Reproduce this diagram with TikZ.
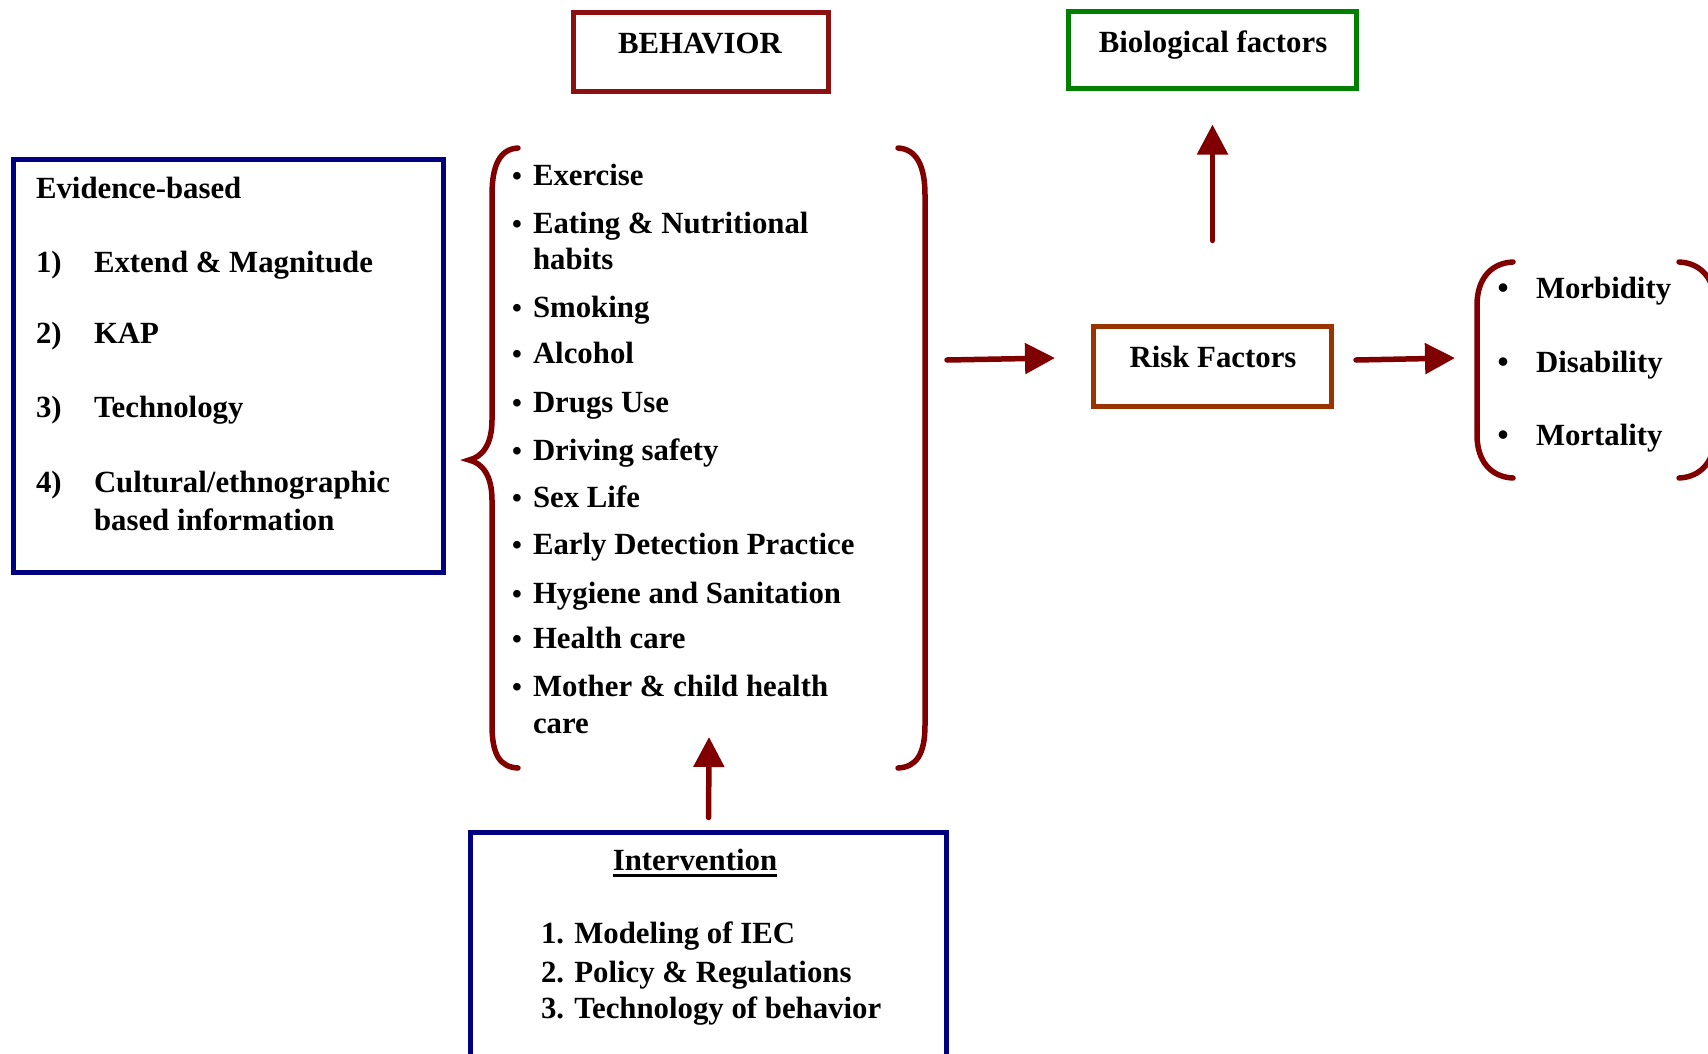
\documentclass[tikz,border=0pt]{standalone}
\usepackage{fontspec}
\setmainfont{Liberation Serif}
\usetikzlibrary{arrows.meta}
\definecolor{arrred}{RGB}{128,0,0}
\definecolor{behred}{RGB}{140,16,16}
\definecolor{navyblue}{RGB}{0,0,128}
\definecolor{biogreen}{RGB}{0,128,0}
\definecolor{riskbrown}{RGB}{153,51,0}
\begin{document}
\begin{tikzpicture}[x=1pt,y=-1pt,
  every node/.style={inner sep=0pt, outer sep=0pt, font=\fontsize{30.8}{37}\selectfont\bfseries},
  box/.style={draw, line width=5pt, inner sep=0pt},
  txt/.style={anchor=base west},
  ctxt/.style={anchor=base},
  dot/.style={anchor=base, font=\fontsize{28}{28}\selectfont\bfseries},
  bigdot/.style={anchor=base, font=\fontsize{31.5}{37}\selectfont\bfseries},
  arr/.style={draw=arrred, line width=5.5pt, line cap=round, -{Triangle[length=30pt,width=30pt]}},
  bracket/.style={draw=arrred, line width=5.5pt, line cap=round}]
\clip (0,0) rectangle (1708,1053);

% boxes
\node[box, draw=behred, minimum width=255pt, minimum height=79pt] (behbox) at (700.5,51.5) {};
\node[box, draw=biogreen, minimum width=288pt, minimum height=77pt] (biobox) at (1212.5,50) {};
\node[box, draw=riskbrown, minimum width=238pt, minimum height=80pt] (riskbox) at (1212.5,366.5) {};
\node[box, draw=navyblue, minimum width=430pt, minimum height=413pt] (evbox) at (228.5,366) {};
\node[box, draw=navyblue, minimum width=476pt, minimum height=260pt] (intbox) at (708.5,962.5) {};

% box titles
\node[ctxt] (behtitle) at (700,53) {BEHAVIOR};
\node[ctxt] (biotitle) at (1213,52) {Biological factors};
\node[ctxt] (risktitle) at (1213,367) {Risk Factors};

% evidence-based list
\node[txt] (evtitle) at (36,198) {Evidence-based};
\node[txt] (ev1n) at (36,272) {1)};
\node[txt] (ev1) at (94,272) {Extend \& Magnitude};
\node[txt] (ev2n) at (36,343) {2)};
\node[txt] (ev2) at (94,343) {KAP};
\node[txt] (ev3n) at (36,417) {3)};
\node[txt] (ev3) at (94,417) {Technology};
\node[txt] (ev4n) at (36,492) {4)};
\node[txt] (ev4) at (94,492) {Cultural/ethnographic};
\node[txt] (ev4b) at (94,530) {based information};

% behaviour list
\foreach \yy/\tt [count=\i] in {185/Exercise, 233/Eating \& Nutritional, 317/Smoking, 363/Alcohol,
    412/Drugs Use, 460/Driving safety, 507/Sex Life, 554/Early Detection Practice,
    603/Hygiene and Sanitation, 648/Health care, 696/Mother \& child health} {
  \node[dot] (bdot\i) at (517,\yy) {•};
  \node[txt] (bitem\i) at (533,\yy) {\tt};
}
\node[txt] (bitem2b) at (533,269) {habits};
\node[txt] (bitem11b) at (533,733) {care};

% braces around the behaviour list
\draw[bracket] (518,148) .. controls (500,149) and (492,165) .. (492,195)
  -- (492,420) .. controls (492,445) and (482,457) .. (469,460)
  .. controls (482,463) and (492,475) .. (492,500)
  -- (492,725) .. controls (492,755) and (500,767) .. (518,768);
\draw[bracket] (898,148) .. controls (916,149) and (925,165) .. (925,195)
  -- (925,725) .. controls (925,755) and (916,767) .. (898,768);

% outcomes
\node[bigdot] (odot1) at (1503,298) {•};
\node[txt] (out1) at (1536,298) {Morbidity};
\node[bigdot] (odot2) at (1503,372) {•};
\node[txt] (out2) at (1536,372) {Disability};
\node[bigdot] (odot3) at (1503,445) {•};
\node[txt] (out3) at (1536,445) {Mortality};
\draw[bracket] (1513,262) .. controls (1490,263) and (1477,280) .. (1477,305)
  -- (1477,435) .. controls (1477,460) and (1490,477) .. (1513,478);
\draw[bracket] (1679,262) .. controls (1702,263) and (1715,280) .. (1715,305)
  -- (1715,435) .. controls (1715,460) and (1702,477) .. (1679,478);

% intervention
\node[ctxt] (inttitle) at (695,870) {Intervention};
\draw[line width=3pt] ([yshift=-5pt]inttitle.base west) -- ([yshift=-5pt]inttitle.base east);
\node[txt] (int1) at (541,943) {1. Modeling of IEC};
\node[txt] (int2) at (541,982) {2. Policy \& Regulations};
\node[txt] (int3) at (541,1018) {3. Technology of behavior};

% connectors
\coordinate (bracemid) at (947,360);
\coordinate (riskin) at (1055,358);
\coordinate (riskout) at (1356,360);
\coordinate (outin) at (1455,358);
\coordinate (listbottom) at (709,737);
\draw[arr] (bracemid) -- (riskin);
\draw[arr] (riskout) -- (outin);
\draw[arr, shorten <=86pt, shorten >=36pt] (riskbox.north) -- (biobox.south);
\draw[arr, shorten <=15pt] (intbox.north) -- (listbottom);
\end{tikzpicture}
\end{document}
